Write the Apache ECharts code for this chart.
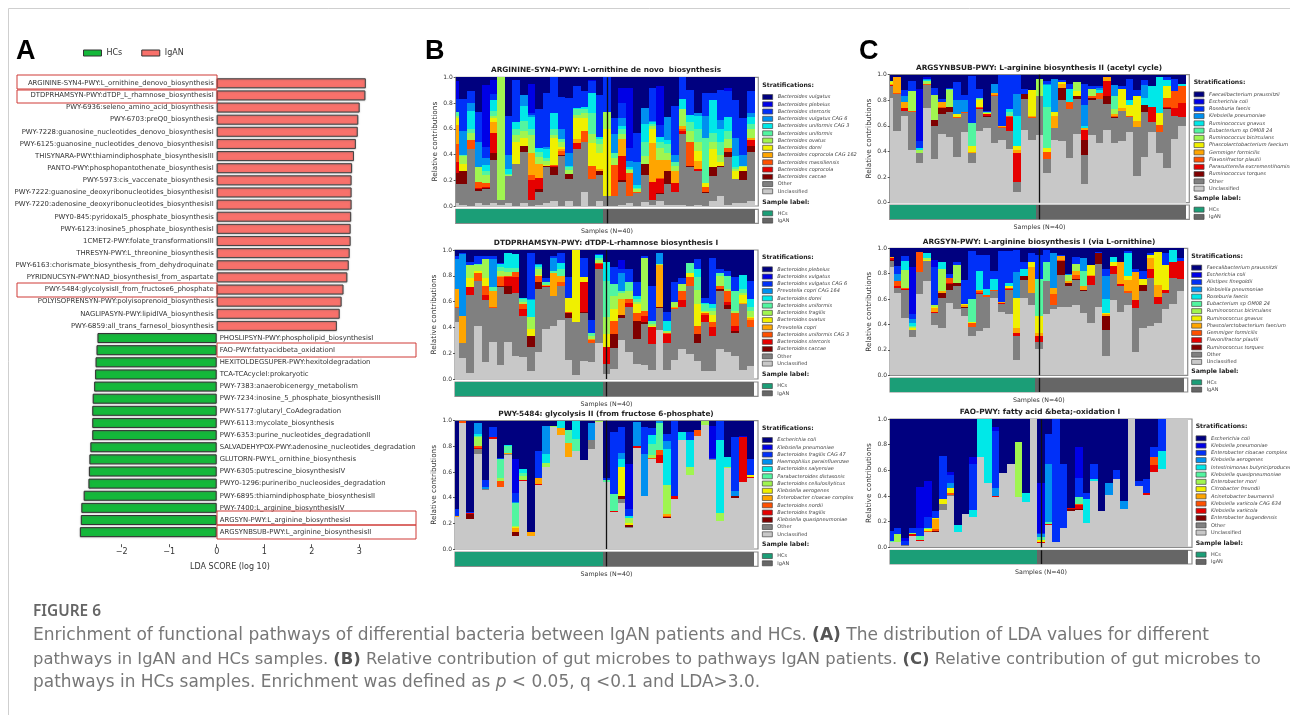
<!DOCTYPE html>
<html><head><meta charset="utf-8"><style>html,body{margin:0;padding:0;background:#fff}#c{width:1290px;height:715px}</style>
<script src="https://cdn.jsdelivr.net/npm/echarts@6/dist/echarts.min.js"></script></head><body><div id="c"></div><script>
// ---------- Panel A: LDA scores ----------
const ldaIgAN=["ARGININE-SYN4-PWY:L_ornithine_denovo_biosynthesis","DTDPRHAMSYN-PWY:dTDP_L_rhamnose_biosynthesisI","PWY-6936:seleno_amino_acid_biosynthesis","PWY-6703:preQ0_biosynthesis","PWY-7228:guanosine_nucleotides_denovo_biosynthesisI","PWY-6125:guanosine_nucleotides_denovo_biosynthesisII","THISYNARA-PWY:thiamindiphosphate_biosynthesisIII","PANTO-PWY:phosphopantothenate_biosynthesisI","PWY-5973:cis_vaccenate_biosynthesis","PWY-7222:guanosine_deoxyribonucleotides_biosynthesisII","PWY-7220:adenosine_deoxyribonucleotides_biosynthesisII","PWY0-845:pyridoxal5_phosphate_biosynthesis","PWY-6123:inosine5_phosphate_biosynthesisI","1CMET2-PWY:folate_transformationsIII","THRESYN-PWY:L_threonine_biosynthesis","PWY-6163:chorismate_biosynthesis_from_dehydroquinate","PYRIDNUCSYN-PWY:NAD_biosynthesisI_from_aspartate","PWY-5484:glycolysisII_from_fructose6_phosphate","POLYISOPRENSYN-PWY:polyisoprenoid_biosynthesis","NAGLIPASYN-PWY:lipidIVA_biosynthesis","PWY-6859:all_trans_farnesol_biosynthesis"];
const ldaIgANValues=[3.14,3.13,3.01,2.98,2.97,2.93,2.89,2.85,2.84,2.84,2.84,2.83,2.82,2.82,2.80,2.78,2.75,2.67,2.63,2.59,2.53];
const ldaHCs=["PHOSLIPSYN-PWY:phospholipid_biosynthesisI","FAO-PWY:fattyacidbeta_oxidationI","HEXITOLDEGSUPER-PWY:hexitoldegradation","TCA-TCAcycleI:prokaryotic","PWY-7383:anaerobicenergy_metabolism","PWY-7234:inosine_5_phosphate_biosynthesisIII","PWY-5177:glutaryl_CoAdegradation","PWY-6113:mycolate_biosynthesis","PWY-6353:purine_nucleotides_degradationII","SALVADEHYPOX-PWY:adenosine_nucleotides_degradation","GLUTORN-PWY:L_ornithine_biosynthesis","PWY-6305:putrescine_biosynthesisIV","PWY0-1296:purineribo_nucleosides_degradation","PWY-6895:thiamindiphosphate_biosynthesisII","PWY-7400:L_arginine_biosynthesisIV","ARGSYN-PWY:L_arginine_biosynthesisI","ARGSYNBSUB-PWY:L_arginine_biosynthesisII"];
const ldaHCsValues=[-2.51,-2.53,-2.55,-2.56,-2.58,-2.61,-2.62,-2.62,-2.62,-2.66,-2.68,-2.69,-2.70,-2.80,-2.85,-2.86,-2.88];
const ldaTicks=[-2,-1,0,1,2,3];

// ---------- Stacked panels: per sample, cumulative tops in percent, bottom to top ----------
// columns: Unclassified, Other, then the 11 species below the top one; the top species fills up to 100.
// A row that stops early means the remaining species are absent in that sample.
const b1Tops=[
[2,17,26,34,48,63,68,70,73,73,73,83,97],[1,17,27,27,27,27,33,39,40,40,58,83],[0,44,44,44,51,51,51,57,60,74,80,89],[2,12,13,14,19,19,19,30,30,30,50,73],[1,13,14,15,18,18,18,24,27,32,37,46,94],[2,36,41,57,57,65,68,70,74,82,82,87,98],[1,5,5,5,5,5,5,100],[2,23,23,23,23,23,23,24,25,29,40,70],[0,33,33,33,33,33,50,55,60,65,65,98],[2,42,47,47,47,47,53,58,66,78,86],
[0,5,5,20,24,41,41,55,60,69,71,72,95],[1,11,13,22,22,33,33,38,42,45,45,75],[2,30,31,31,31,31,32,35,37,44,46,88],[4,24,30,31,32,32,53,55,60,72,72,100],[0,39,40,40,43,44,46,50,52,52,60,85],[4,21,25,25,25,25,25,28,30,31,41,84],[0,44,44,49,49,52,68,71,75,76,76,93],[11,50,50,50,58,58,68,72,75,77,77,89],[0,21,21,21,31,31,49,56,72,88,88,97,98],[4,24,27,27,27,29,41,48,52,54,54,86],
[0,8,8,8,8,8,60,73,73,73,73,100],[0,8,8,8,32,32,32,37,41,41,56,68],[1,19,20,39,39,52,52,56,60,62,68,80,92],[2,8,8,8,26,26,26,28,29,30,35,45,92],[0,10,10,10,11,11,11,13,14,16,34,57],[3,24,33,33,33,33,33,39,50,64,76],[1,5,5,19,19,49,60,62,64,65,66,92],[4,9,10,21,22,36,36,45,50,54,54,63,93],[1,17,27,27,27,36,36,41,48,51,69],[1,11,11,18,18,27,27,31,34,34,40,78],
[1,56,56,58,60,62,62,75,75,83,83,100],[0,30,31,31,50,50,50,58,65,71,71,90],[1,27,27,29,29,35,43,50,60,70,72],[0,10,11,11,15,15,18,18,53,53,70,88],[4,23,30,30,30,30,44,50,57,82,82,88],[8,30,31,31,31,31,34,40,50,60,67,90],[1,38,42,42,45,45,45,52,58,69,69,89,92],[2,21,21,21,21,21,27,29,30,39,53,82],[2,20,27,27,27,27,30,31,31,31,40,68],[4,42,47,51,51,53,53,60,64,69,72,89]];
const b2Tops=[
[44,55,55,55,56,70,70,70,70,70,93,95],[16,28,28,28,28,49,49,49,49,49,97,98],[5,65,65,71,71,71,78,88,88,88,88,91],[41,76,76,76,82,82,84,88,89,89,89,95],[13,61,61,65,72,72,78,93,93,93,93,95],[29,55,55,55,56,68,68,68,71,71,93,95],[11,71,72,72,79,80,80,84,87,89,89,90],[29,66,72,79,80,80,80,83,86,98],[18,67,67,79,83,83,83,83,86,97],[17,49,49,54,58,58,58,60,62,63],
[6,25,33,33,33,33,39,48,48,61,62,98],[21,70,75,75,80,80,81,85,87,88,89],[39,71,71,72,72,73,73,73,75,75,75,78],[41,64,64,64,64,82,82,82,84,84,94,95],[46,72,72,72,75,80,80,80,85,90,90,98],[15,47,51,51,52,52,63,63,63,63,63,79],[3,44,44,44,44,44,100],[14,51,52,75,75,75,79,79,79,79,79,94],[13,28,28,28,30,31,31,33,36,36,36,46],[28,85,85,89,90,90,90,92,94,96,96,97],
[4,12,12,25,25,25,35,48,76,91],[8,24,35,35,45,45,54,64,74,74,74,87],[30,47,50,50,50,62,62,67,68,68,82,85,92],[21,56,56,59,62,62,62,68,75,75,75,85],[12,31,45,45,51,51,58,60,62,64,64,75],[11,43,44,49,53,53,53,94,94,94,94,95],[7,27,27,40,40,40,41,43,45,45,45,72],[38,55,56,56,56,88,88,89,89,89,98],[7,28,28,35,36,36,36,37,37,45,45,52],[15,54,54,54,55,56,56,60,60,60,60,75],
[23,56,56,61,68,68,68,74,74,74,74,78],[19,72,72,72,79,79,82,82,90],[14,28,35,35,41,41,58,69,79,85,85,93],[6,44,44,50,51,51,52,53,58,59,59,63],[6,33,33,40,44,44,50,53,55,58,58,94],[23,68,70,70,72,72,72,80,82,82,82,85],[21,54,57,60,68,68,68,70,80,80,80,84],[18,36,37,41,51,51,51,53,68,68,68,79],[7,58,58,58,58,59,65,67,70,81],[10,40,40,40,46,47,48,53,56,62,62,76]];
const b3Tops=[
[25,25,25,25,25,26,26,26,26,26,26,31],[98,98,98,98,100],[23,23,27,28,28,28,28,28,28,28,28,29],[74,78,78,79,80,80,80,87,88,90,98],[46,47,47,47,47,47,47,47,47,47,48,54],[86,86,86,87,87,87,87,87,87,87,87,95],[48,48,48,48,53,53,53,55,70,70,70,71],[73,74,74,74,74,75,75,75,80,81],[10,10,13,13,13,16,17,18,36,36,37,44,70],[53,53,53,54,54,54,54,57,59,62],
[10,10,10,10,10,13],[50,50,50,51,51,55,55,55,55,55,55,76],[64,64,64,64,64,64,64,67,67,74,96],[95,95,95,95,95,95,95,96],[89,89,89,89,89,94,94,94,94,100],[72,72,72,72,72,83,83,83,93],[76,76,76,76,76,76,76,76,86,100],[69],[78,85,85,85,85,85,85,85,85,85,98],[99,99,99,99,99,99,99,100],
[52,52,52,52,52,52,52,52,54,54,54,55],[29,29,29,30,30,30,30,30,43,43,43,91],[36,39,41,41,41,41,64,64,64,70,75,95],[16,17,19,19,19,19,20,24,24,26,26,31,66],[79,79,79,80,80,80,80,80,80,80,99],[41,41,41,41,41,41,41,41,41,41,74,95],[70,70,70,70,71,71,71,73,82,89,89,94],[67,67,67,73,77,77,77,77,98,98,100],[24,24,25,25,26,27,27,50,50,78,84,90],[39,39,39,41,41,41,41,41,41,41,41,100],
[85,85,85,85,85,85,85,85,85,91],[58,58,58,58,58,58,58,64,64,85,85,91],[88,88,88,88,93],[97,97,97,97,97,97,97,100],[69,70,70,70,70,70,70,70,70,70,70,71,96],[22,22,22,22,22,22,22,28,28,85,85,100],[63,63,63,63,63,63,63,64,64,72],[40,40,41,41,41,41,41,41,41,41,45,87],[52,52,52,87,87,87,87,87,87,87,87,87,88],[55,55,55,56,56,56,58,58,58,58,58,70]];
const c1Tops=[
[82,91,91,92,92,93,94,95],[56,85,85,85,86,98],[68,72,72,74,74,79,79,79,79,79,83,88],[41,71,71,71,72,72,72,87,87,87,87,95],[31,39,39,39,39,39,39,41,41,43,43,48,89],[74,92,92,92,93,93,93,95,95,96,97,97,98],[34,60,65,65,65,65,65,84,84,84,84,90],[54,69,74,74,75,79,79,79,79,79,79,81],[51,71,75,75,75,75,75,88,89,89,89,90],[36,66,66,66,67,67,69,69,69,69,80,94],
[55,70,70,70,71,71,71,71,71,71,80,84],[31,39,39,39,39,40,44,44,62,62,62,99],[56,73,73,74,75,75,80,81,82,82,82,89],[58,67,68,69,69,69,70,70,71,71,71,72],[47,83,83,83,84,86,86,86,86,86,93],[49,58,58,58,59,60,60,60,60,60,60,100],[42,56,56,67,68,68,68,68,71,73,73,100],[8,16,16,39,39,41,44,44,44,68,85,100],[57,81,85,85,85,85,85,85,85,85,85,89],[49,66,66,66,67,68,88],
[53,83,83,83,83,83,83,97],[23,34,34,34,40,40,43,43,75,92,93,95],[49,58,58,58,58,68,71,71,71,71,97],[48,80,90,90,90,93,94,94,94,94,94,96],[35,73,73,73,79,79,79,79,79,89,89,93],[54,81,83,83,83,83,87,94],[15,37,49,57,57,58,58,58,58,60,76,93],[53,80,82,82,83,83,83,89,89,89,89,91],[47,81,81,81,86,86,86,86,86,88,90,91],[57,77,83,95,95,98],
[47,66,67,67,68,69,69,73,83,83,92],[48,72,72,72,72,74,89,89,89,89,89,91],[55,67,67,67,68,68,76,76,76,80,80,97],[21,59,59,59,59,64,83,83,83,83,83,88],[36,71,76,76,76,76,76,76,76,82,92,96],[55,63,63,75,75,75,75,75,75,91],[39,55,55,55,61,61,70,70,70,98],[27,73,74,75,82,82,91,91,91,96,96,98],[50,68,68,74,87,87,87,87,87,87,87,97],[60,67,67,78,91,91,91,91,91,93]];
const c2Tops=[
[85,90,91,92,92,93],[65,69,69,70,74,74,74,74,74,74,80,86],[45,67,67,68,69,69,69,83,83,90,90,94],[30,36,36,36,36,36,37,38,39,41,44,48,85],[64,81,81,81,97],[74,90,90,90,90,90,91,92,92,96],[40,49,49,50,50,53,54,55,55,55,55,85,91],[37,61,65,65,65,66,66,84,84,89],[57,67,72,73,77,77,77,77,77,77,77,80],[52,70,73,73,73,73,73,87,87,87,87,89],
[47,53,54,54,54,55,56,56,56,56,56,75],[31,38,38,38,41,41,42,42,60,60,60,98],[35,64,64,65,66,67,67,67,67,82,82,95],[37,62,62,62,63,63,63,63,63,68,68,95],[61,66,66,66,67,67,67,67,67,76,76,82],[50,56,56,57,57,58,58,58,58,58,58,98],[48,67,67,68,69,69,70,70,70,73,73,98],[12,31,31,33,33,37,61,61,61,61,81,99],[61,75,78,78,78,78,78,78,78,84,84,89],[55,65,65,65,65,85,89,89,89,89,89,96],
[21,26,26,31,31,33,47,47,76,76,76,95],[48,74,74,74,74,74,74,74,89,89,89,99],[52,55,55,55,64,69,69,69,69,69,96],[54,79,90,90,91,94,94,94,94,94,94,95],[54,70,73,73,73,74,74,79,79,79,80],[55,75,76,76,79,82,82,88,88,88,88,93],[49,66,67,67,67,70,70,70,82,82,92],[41,71,71,78,78,79,87],[54,88,96,96,96,96,96,96,96,96,96,97],[15,36,47,47,47,48,49,49,49,60,78,84],
[59,80,80,86,86,86,89,89,89,93],[50,70,70,72,72,89],[55,65,65,65,66,75,78,78,78,96,96,98],[18,53,53,59,59,81,81,81,81,81,81,84],[37,66,71,71,71,71,76,76,76,76,76,82],[39,77,77,84,84,92,95,95,95,95,95,96],[41,56,56,62,62,71,97],[52,65,65,67,67,67,87,87,87,87,87,96],[56,77,77,89,89,89,89,89,89,99],[66,76,76,90,90,90,90,90,90,90,90,92]];
const c3Tops=[
[4,4,4,4,4,4,4,4,5,5,5,13],[4,4,4,4,4,4,4,10,10,10,10,15],[1,2,2,2,2,2,2,2,2,2,2,5,7],[9,9,9,10,10,10,10,11,11,11,11,15],[5,5,5,6,6,6,6,6,9,9,9,15,47],[12,12,12,12,13,13,14,14,15,15,15,24,52],[12,12,13,13,14,22,23,23,23,23,23,28],[29,34,34,34,34,34,38,38,38,38,38,71],[40,41,41,41,42,42,46,46,46,46,50,56,59],[12,12,12,12,12,12,12,12,12,17],
[26],[24,24,24,24,24,24,24,24,24,29,29,65,70],[70,70,70,70,70,70,70,70,70,100],[50,50,50,50,50,50,50,50,50,100],[39,39,39,40,40,40,40,40,40,40,46,91,94],[58],[65],[39,39,39,39,39,39,39,82],[35,35,35,35,35,35,35,35,35,42],[100],
[3,3,3,4,4,4,6,6,8,8,10,11,50],[17,17,17,18,18,18,18,18,20,20,65,88],[4,4,4,4,4,4,4,4,4,4,4,100],[15,15,15,15,15,15,15,15,15,15,15,65],[28,28,30,31],[29,29,30,33,34,34,34,34,39,39,39,54,78],[19,19,19,19,19,19,19,19,19,38,38,42],[52,52,52,52,52,52,52,52,52,53,53,65],[28],[41,41,41,41,41,41,41,41,41,41,50],
[53,53,53,53,53,53,53,53,53,53,53,60],[30,30,30,30,30,30,30,30,30,30,36],[100],[48,48,48,48,48,48,48,48,48,48,48,52],[41,41,41,42,42,42,42,42,42,42,42,53],[59,59,59,64,70,70,70,70,70,70,70,78],[61,61,61,61,61,61,61,61,61,75,75,100],[100],[100],[100]];

const b1Species=["Bacteroides vulgatus","Bacteroides plebeius","Bacteroides stercoris","Bacteroides vulgatus CAG 6","Bacteroides uniformis CAG 3","Bacteroides uniformis","Bacteroides ovatus","Bacteroides dorei","Bacteroides coprocola CAG 162","Bacteroides massiliensis","Bacteroides coprocola","Bacteroides caccae"];
const b2Species=["Bacteroides plebeius","Bacteroides vulgatus","Bacteroides vulgatus CAG 6","Prevotella copri CAG 164","Bacteroides dorei","Bacteroides uniformis","Bacteroides fragilis","Bacteroides ovatus","Prevotella copri","Bacteroides uniformis CAG 3","Bacteroides stercoris","Bacteroides caccae"];
const b3Species=["Escherichia coli","Klebsiella pneumoniae","Bacteroides fragilis CAG 47","Haemophilus parainfluenzae","Bacteroides salyersiae","Parabacteroides distasonis","Bacteroides cellulosilyticus","Klebsiella aerogenes","Enterobacter cloacae complex","Bacteroides nordii","Bacteroides fragilis","Klebsiella quasipneumoniae"];
const c1Species=["Faecalibacterium prausnitzii","Escherichia coli","Roseburia faecis","Klebsiella pneumoniae","Ruminococcus gnavus","Eubacterium sp OM08 24","Ruminococcus bicirculans","Phascolarctobacterium faecium","Gemmiger formicilis","Flavonifractor plautii","Parasutterella excrementihominis","Ruminococcus torques"];
const c2Species=["Faecalibacterium prausnitzii","Escherichia coli","Alistipes finegoldii","Klebsiella pneumoniae","Roseburia faecis","Eubacterium sp OM08 24","Ruminococcus bicirculans","Ruminococcus gnavus","Phascolarctobacterium faecium","Gemmiger formicilis","Flavonifractor plautii","Ruminococcus torques"];
const c3Species=["Escherichia coli","Klebsiella pneumoniae","Enterobacter cloacae complex","Klebsiella aerogenes","Intestinimonas butyriciproducens","Klebsiella quasipneumoniae","Enterobacter mori","Citrobacter freundii","Acinetobacter baumannii","Klebsiella variicola CAG 634","Klebsiella variicola","Enterobacter bugandensis"];
const sampleCount=40, hcCount=20;

// ---------- styles & layout ----------
const FONT='DejaVu Sans';
const topColors=['#00007f','#0000e6','#0030f8','#0090f0','#00e8e8','#52f5a0','#a0f550','#f0f000','#ffa500','#ff5000','#e60000','#7f0000'];
const layout=[
 {id:'b1',tops:b1Tops,sp:b1Species,title:'ARGININE-SYN4-PWY: L-ornithine de novo  biosynthesis',tx:606,ty:70.7,l:455.7,r:758.3,y1:77.3,y0:206,s0:209.3,s1:223.3,lx:762.3,sh:85.3,f:96.7,la:202.3,h:213},
 {id:'b2',tops:b2Tops,sp:b2Species,title:'DTDPRHAMSYN-PWY: dTDP-L-rhamnose biosynthesis I',tx:606,ty:243,l:455,r:758,y1:250,y0:379,s0:382,s1:396.3,lx:762,sh:257.7,f:269,la:374.7,h:385.7},
 {id:'b3',tops:b3Tops,sp:b3Species,title:'PWY-5484: glycolysis II (from fructose 6-phosphate)',tx:606,ty:414,l:455,r:758,y1:420.7,y0:549,s0:552,s1:566.3,lx:762,sh:429,f:439.7,la:545,h:555.7},
 {id:'c1',tops:c1Tops,sp:c1Species,title:'ARGSYNBSUB-PWY: L-arginine biosynthesis II (acetyl cycle)',tx:1039,ty:68,l:889.7,r:1189.3,y1:74.7,y0:202.7,s0:205,s1:219.3,lx:1193.7,sh:82.7,f:94,la:198.7,h:209.3},
 {id:'c2',tops:c2Tops,sp:c2Species,title:'ARGSYN-PWY: L-arginine biosynthesis I (via L-ornithine)',tx:1039,ty:242,l:890,r:1187.7,y1:248.3,y0:375.3,s0:378,s1:392,lx:1191.3,sh:256.7,f:267.3,la:371.7,h:382},
 {id:'c3',tops:c3Tops,sp:c3Species,title:'FAO-PWY: fatty acid &beta;-oxidation I',tx:1040,ty:412,l:890,r:1192,y1:419,y0:547.3,s0:550.3,s1:564,lx:1195.7,sh:426.7,f:438,la:543.7,h:554.3}
];
const grids=[],xAxes=[],yAxes=[],series=[],legends=[],titles=[];
const W=1290,H=715;
function T(text,left,cy,size,opt){titles.push(Object.assign({text,left,top:cy-size*0.62,padding:0,itemGap:0,textStyle:Object.assign({fontFamily:FONT,fontSize:size,fontWeight:'normal',color:'#333',lineHeight:size*1.2},opt||{})},opt&&opt.align?{textAlign:opt.align}:{}));}
const mark={silent:true,symbol:'none',animation:false,label:{show:false},lineStyle:{color:'#111',width:1.3,type:'solid'},data:[{xAxis:20}]};
// one sample's slab: x centred on the sample index, one unit wide, clipped to the axis window
function slab(params,api){
 const x=api.value(0),lo=api.value(1),hi=api.value(2);
 if(!(hi>lo))return null;
 const a=api.coord([x-0.5,hi]),b=api.coord([x+0.5,lo]),cs=params.coordSys;
 const x0=Math.round(Math.max(a[0],cs.x)),x1=Math.round(Math.min(b[0],cs.x+cs.width)),y0=Math.round(a[1]),y1=Math.round(b[1]);
 if(y1<=y0)return null;
 return {type:'rect',shape:{x:x0,y:y0,width:x1-x0,height:y1-y0},style:{fill:api.visual('color')}};
}

// Panel A
grids.push({left:26.7,width:406.6,top:77.2,height:461,containLabel:false});
xAxes.push({gridIndex:0,type:'value',min:-4,max:4.56,offset:6,splitLine:{show:false},axisLine:{show:false},
 axisTick:{show:true,length:3,lineStyle:{color:'#555'},customValues:ldaTicks},
 axisLabel:{customValues:ldaTicks,margin:4,fontFamily:FONT,fontSize:8,color:'#333',formatter:v=>String(v).replace('-','\u2212')},
 name:'LDA SCORE (log 10)',nameLocation:'middle',nameGap:19,nameTextStyle:{fontFamily:FONT,fontSize:8,color:'#333'}});
const ldaCats=ldaIgAN.concat(ldaHCs);
yAxes.push({gridIndex:0,type:'category',inverse:true,data:ldaCats,show:false});
const barLabel=pos=>({show:true,position:pos,distance:3,formatter:p=>p.name,fontFamily:FONT,fontSize:6.86,color:'#333'});
const halo={shadowColor:'rgba(90,90,90,0.55)',shadowBlur:1.5,shadowOffsetY:0.5};
series.push({name:'HCs',type:'bar',xAxisIndex:0,yAxisIndex:0,barWidth:10,barGap:'-100%',data:ldaIgAN.map(()=>null).concat(ldaHCsValues),itemStyle:Object.assign({color:'#14b83a',borderColor:'#333',borderWidth:1},halo),label:barLabel('right')});
series.push({name:'IgAN',type:'bar',xAxisIndex:0,yAxisIndex:0,barWidth:10,barGap:'-100%',data:ldaIgANValues.concat(ldaHCs.map(()=>null)),itemStyle:Object.assign({color:'#f8716b',borderColor:'#444',borderWidth:1},halo),label:barLabel('left')});
legends.push({left:83,top:49,orient:'horizontal',padding:0,icon:'rect',itemWidth:18,itemHeight:6,itemGap:19,selectedMode:false,data:['HCs','IgAN'],textStyle:{fontFamily:FONT,fontSize:8,color:'#333'},itemStyle:{borderColor:'#333',borderWidth:1,shadowBlur:0,shadowOffsetY:0,shadowColor:'transparent'}});

// Stacked panels
layout.forEach(p=>{
 const gi=grids.length;
 const common={left:p.l,width:p.r-p.l,show:true,borderColor:'#8c8c8c',borderWidth:1.2,backgroundColor:'#fff'};
 grids.push(Object.assign({top:p.y1,height:p.y0-p.y1},common));
 grids.push(Object.assign({top:p.s0,height:p.s1-p.s0},common));
 const xa={type:'value',min:0,max:sampleCount,axisLine:{show:false},axisTick:{show:false},axisLabel:{show:false},splitLine:{show:false}};
 xAxes.push(Object.assign({gridIndex:gi},xa));
 xAxes.push(Object.assign({gridIndex:gi+1,name:'Samples (N=40)',nameLocation:'middle',nameGap:5,nameTextStyle:{fontFamily:FONT,fontSize:6.3,color:'#333'}},xa));
 yAxes.push({gridIndex:gi,type:'value',min:0,max:1,interval:0.2,splitLine:{show:false},axisLine:{show:false},axisTick:{length:2,lineStyle:{color:'#555'}},
   axisLabel:{margin:3,fontFamily:FONT,fontSize:6,color:'#333',formatter:v=>v.toFixed(1)},
   name:'Relative contributions',nameLocation:'middle',nameGap:17.5,nameTextStyle:{fontFamily:FONT,fontSize:7.3,color:'#333'}});
 yAxes.push({gridIndex:gi+1,type:'value',min:0,max:1,show:false});
 const names=['Unclassified','Other'].concat(p.sp.slice().reverse());
 const colors=['#c8c8c8','#808080'].concat(topColors.slice().reverse());
 const rows=p.tops.map(r=>{const a=r.slice();while(a.length<13)a.push(a[a.length-1]);a.push(100);return a;});
 names.forEach((n,k)=>{
  const s={name:p.id+'|'+n,type:'custom',renderItem:slab,clip:false,xAxisIndex:gi,yAxisIndex:gi,itemStyle:{color:colors[k]},encode:{x:0,y:[1,2]},
   data:rows.map((a,i)=>[i,(k?a[k-1]:0)/100,a[k]/100])};
  if(k===0)s.markLine=mark;
  series.push(s);
 });
 const grp=(n,c,on)=>({name:p.id+'|'+n,type:'custom',renderItem:slab,clip:false,xAxisIndex:gi+1,yAxisIndex:gi+1,itemStyle:{color:c},encode:{x:0,y:[1,2]},
   data:Array.from({length:sampleCount},(_,i)=>[i,0,1]).filter(d=>on(d[0]))});
 const a=grp('HCs','#1b9e77',i=>i<hcCount), b=grp('IgAN','#666666',i=>i>=hcCount);
 b.markLine=mark; series.push(a,b);
 const lg={left:p.lx,orient:'vertical',padding:0,icon:'rect',itemWidth:10,itemHeight:5,itemGap:1.55,selectedMode:false,formatter:n=>n.split('|')[1],itemStyle:{borderColor:'#444',borderWidth:0.7}};
 legends.push(Object.assign({},lg,{top:p.f-2.5,
   data:names.slice().reverse().map(n=>({name:p.id+'|'+n,textStyle:(n==='Other'||n==='Unclassified')?{fontStyle:'normal'}:{fontStyle:'italic'}})),
   textStyle:{fontFamily:FONT,fontSize:5,lineHeight:5,color:'#444'}}));
 legends.push(Object.assign({},lg,{top:p.h-2.5,data:[p.id+'|HCs',p.id+'|IgAN'],textStyle:{fontFamily:FONT,fontSize:5,lineHeight:5,color:'#444'}}));
 T(p.title,p.tx,p.ty,7.35,{fontWeight:'bold',color:'#222',align:'center'});
 T('Stratifications:',p.lx,p.sh,6.15,{fontWeight:'bold',color:'#222'});
 T('Sample label:',p.lx,p.la,6.15,{fontWeight:'bold',color:'#222'});
});

// Panel letters
T('A',16,52,27,{fontFamily:'Liberation Sans',fontWeight:'bold',color:'#000'});
T('B',425,52,27,{fontFamily:'Liberation Sans',fontWeight:'bold',color:'#000'});
T('C',859,52,27,{fontFamily:'Liberation Sans',fontWeight:'bold',color:'#000'});

// Caption
const CAPF='DejaVu Sans';
const capRich=s=>({n:{fontFamily:CAPF,fontSize:s,fontWeight:'normal',color:'#777'},b:{fontFamily:CAPF,fontSize:s,fontWeight:'bold',color:'#555'},i:{fontFamily:CAPF,fontSize:s,fontWeight:'normal',fontStyle:'italic',color:'#777'}});
function Cap(text,cy,s){titles.push({text,left:33,top:cy-11,padding:0,textStyle:{rich:capRich(s),fontFamily:CAPF,fontSize:s,fontWeight:'normal',color:'#777',lineHeight:22}});}
titles.push({text:'FIGURE 6',left:33,top:601,padding:0,textStyle:{fontFamily:'Noto Sans',fontSize:15.4,fontWeight:600,color:'#666',lineHeight:22}});
Cap('{n|Enrichment of functional pathways of differential bacteria between IgAN patients and HCs. }{b|(A)}{n| The distribution of LDA values for different}',636,17.05);
Cap('{n|pathways in IgAN and HCs samples. }{b|(B)}{n| Relative contribution of gut microbes to pathways IgAN patients. }{b|(C)}{n| Relative contribution of gut microbes to}',660,16.4);
Cap('{n|pathways in HCs samples. Enrichment was defined as }{i|p}{n| < 0.05, q <0.1 and LDA>3.0.}',683,16.95);

// Highlight boxes and page rules
const box=(x,y,w,h)=>({type:'rect',silent:true,z:50,shape:{x,y,width:w,height:h},style:{fill:'none',stroke:'#cf3a36',lineWidth:1}});
const rule=(x1,y1,x2,y2)=>({type:'line',silent:true,shape:{x1,y1,x2,y2},style:{stroke:'#cfcfcf',lineWidth:1}});
const graphic=[rule(8.5,8.5,1290,8.5),rule(8.5,8.5,8.5,715),
 box(17,75,200,14),box(17,90,200,13),box(17,283,200,14),
 box(217,343,199,14),box(217,511,199,14),box(217,525,199,14)];

const chart=echarts.init(document.getElementById('c'),null,{renderer:'canvas',width:W,height:H});
chart.setOption({animation:false,backgroundColor:'#fff',grid:grids,xAxis:xAxes,yAxis:yAxes,series,legend:legends,title:titles,graphic:{elements:graphic}});
</script></body></html>
